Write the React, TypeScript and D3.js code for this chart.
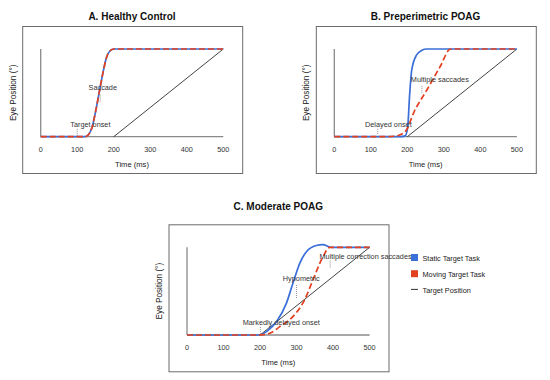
import { useEffect, useRef } from 'react';
import * as d3 from 'd3';

// time (ms) / normalised eye position
const ticks = [0, 100, 200, 300, 400, 500];

const aTimes = [0, 100, 122, 130, 140, 150, 160, 170, 180, 190, 200, 500];
const aStatic = [0, 0, 0, 0.02, 0.1, 0.28, 0.5, 0.72, 0.9, 0.98, 1, 1];
const aMoving = [0, 0, 0, 0.02, 0.1, 0.28, 0.5, 0.72, 0.9, 0.98, 1, 1];

const bStaticTimes = [0, 180, 194, 201, 206, 212, 225, 240, 252, 500];
const bStatic = [0, 0, 0.01, 0.11, 0.46, 0.76, 0.93, 0.985, 1, 1];
const bMovingTimes = [0, 125, 162, 185, 198, 217, 253, 290, 318, 500];
const bMoving = [0, 0, 0.005, 0.03, 0.08, 0.27, 0.53, 0.8, 1, 1];

const cStaticTimes = [0, 199, 218, 245, 272, 290, 309, 327, 354, 372, 395, 500];
const cStatic = [0, 0, 0.04, 0.15, 0.36, 0.59, 0.82, 0.95, 1.02, 1.03, 1, 1];
const cMovingTimes = [0, 196, 227, 254, 290, 322, 345, 372, 391, 500];
const cMoving = [0, 0, 0.02, 0.095, 0.21, 0.4, 0.63, 0.89, 1, 1];

const targetTimes = [200, 500];
const targetPos = [0, 1];

const legendLabels = ['Static Target Task', 'Moving Target Task', 'Target Position'];

const BLUE = '#3b6fd8';
const RED = '#e2401f';
const FONT = 'Liberation Sans, Arial, Helvetica, sans-serif';

const W = 182.6;
const H = 87.7;

type Note = { text: string; tx: number; ty: number; mx: number; y0: number; y1: number };

const panels = [
  {
    title: 'A. Healthy Control', x: 40.7, y: 49, titleY: 19.5,
    sT: aTimes, s: aStatic, mT: aTimes, m: aMoving,
    notes: [
      { text: 'Target onset', tx: 136, ty: 0.11, mx: 100, y0: 0.09, y1: 0.01 },
      { text: 'Saccade', tx: 170, ty: 0.53, mx: 163, y0: 0.48, y1: 0.4 },
    ] as Note[],
  },
  {
    title: 'B. Preperimetric POAG', x: 334.3, y: 49, titleY: 19.5,
    sT: bStaticTimes, s: bStatic, mT: bMovingTimes, m: bMoving,
    notes: [
      { text: 'Delayed onset', tx: 148, ty: 0.11, mx: 119, y0: 0.09, y1: 0.02 },
      { text: 'Multiple saccades', tx: 289, ty: 0.62, mx: 240, y0: 0.58, y1: 0.5 },
    ] as Note[],
  },
  {
    title: 'C. Moderate POAG', x: 187, y: 247.3, titleY: 210.2,
    sT: cStaticTimes, s: cStatic, mT: cMovingTimes, m: cMoving,
    notes: [
      { text: 'Markedly delayed onset', tx: 258, ty: 0.11, mx: 201, y0: 0.09, y1: 0.01 },
      { text: 'Hypometric', tx: 313, ty: 0.615, mx: 300, y0: 0.57, y1: 0.42 },
      { text: 'Multiple correction saccades', tx: 489, ty: 0.87, mx: 392, y0: 0.85, y1: 0.76 },
    ] as Note[],
  },
];

const App = () => {
  const svgRef = useRef<SVGSVGElement>(null);

  useEffect(() => {
    const svg = d3.select(svgRef.current);
    svg.selectAll('*').remove();

    const xScale = d3.scaleLinear().domain([0, 500]).range([0, W]);
    const yScale = d3.scaleLinear().domain([0, 1]).range([H, 0]);

    const line = d3
      .line<[number, number]>()
      .x(d => xScale(d[0]))
      .y(d => yScale(d[1]))
      .curve(d3.curveMonotoneX);

    const zip = (t: number[], v: number[]) => t.map((d, i) => [d, v[i]] as [number, number]);

    panels.forEach(p => {
      // frame
      svg.append('rect')
        .attr('x', p.x - 18)
        .attr('y', p.y - 22.5)
        .attr('width', 220)
        .attr('height', 147)
        .attr('fill', 'none')
        .attr('stroke', '#6b6b6b')
        .attr('stroke-width', 1);

      svg.append('text')
        .attr('x', p.x + W / 2)
        .attr('y', p.titleY)
        .attr('text-anchor', 'middle')
        .style('font-family', FONT)
        .style('font-weight', 'bold')
        .style('font-size', '10px')
        .style('fill', '#111')
        .text(p.title);

      const g = svg.append('g').attr('transform', `translate(${p.x},${p.y})`);

      // axes lines
      g.append('line')
        .attr('x1', xScale(0)).attr('x2', xScale(500))
        .attr('y1', yScale(0)).attr('y2', yScale(0))
        .attr('stroke', '#8a8a8a').attr('stroke-width', 1.3);
      g.append('line')
        .attr('x1', xScale(0)).attr('x2', xScale(0))
        .attr('y1', yScale(0)).attr('y2', yScale(1))
        .attr('stroke', '#8a8a8a').attr('stroke-width', 1.3);

      g.selectAll('.tick-label')
        .data(ticks)
        .enter()
        .append('text')
        .attr('x', d => xScale(d))
        .attr('y', H + 15.2)
        .attr('text-anchor', 'middle')
        .style('font-family', FONT)
        .style('font-size', '7.3px')
        .style('fill', '#333')
        .text(d => d);

      g.append('text')
        .attr('x', W / 2)
        .attr('y', H + 30)
        .attr('text-anchor', 'middle')
        .style('font-family', FONT)
        .style('font-size', '7.6px')
        .style('fill', '#222')
        .text('Time (ms)');

      g.append('text')
        .attr('transform', `translate(-25,${H / 2}) rotate(-90)`)
        .attr('text-anchor', 'middle')
        .style('font-family', FONT)
        .style('font-size', '8.2px')
        .style('fill', '#222')
        .text('Eye Position (°)');

      // target position
      g.append('path')
        .datum(zip(targetTimes, targetPos))
        .attr('fill', 'none')
        .attr('stroke', '#111')
        .attr('stroke-width', 0.8)
        .attr('d', d3.line<[number, number]>().x(d => xScale(d[0])).y(d => yScale(d[1])));

      g.append('path')
        .datum(zip(p.sT, p.s))
        .attr('fill', 'none')
        .attr('stroke', BLUE)
        .attr('stroke-width', 1.7)
        .attr('d', line);

      g.append('path')
        .datum(zip(p.mT, p.m))
        .attr('fill', 'none')
        .attr('stroke', RED)
        .attr('stroke-width', 1.7)
        .attr('stroke-dasharray', '6,3')
        .attr('d', line);

      // annotations
      p.notes.forEach(n => {
        g.append('line')
          .attr('x1', xScale(n.mx)).attr('x2', xScale(n.mx))
          .attr('y1', yScale(n.y0)).attr('y2', yScale(n.y1))
          .attr('stroke', '#777')
          .attr('stroke-width', 0.8)
          .attr('stroke-dasharray', '1,1');
        g.append('text')
          .attr('x', xScale(n.tx))
          .attr('y', yScale(n.ty))
          .attr('text-anchor', 'middle')
          .style('font-family', FONT)
          .style('font-size', '7.3px')
          .style('fill', '#333')
          .text(n.text);
      });
    });

    // legend
    const legend = svg.append('g').attr('transform', 'translate(411,254)');
    legendLabels.forEach((label, i) => {
      const y = i * 16.2;
      if (i < 2) {
        legend.append('rect')
          .attr('x', 0).attr('y', y)
          .attr('width', 7).attr('height', 7)
          .attr('fill', i === 0 ? BLUE : RED);
      } else {
        legend.append('line')
          .attr('x1', 0).attr('x2', 7)
          .attr('y1', y + 3).attr('y2', y + 3)
          .attr('stroke', '#333').attr('stroke-width', 1);
      }
      legend.append('text')
        .attr('x', 11.5)
        .attr('y', y + 6.5)
        .style('font-family', FONT)
        .style('font-size', '7.3px')
        .style('fill', '#222')
        .text(label);
    });
  }, []);

  return (
    <svg
      ref={svgRef}
      width={550}
      height={380}
      style={{ position: 'absolute', left: 0, top: 0, background: '#fff' }}
    />
  );
};

export default App;
